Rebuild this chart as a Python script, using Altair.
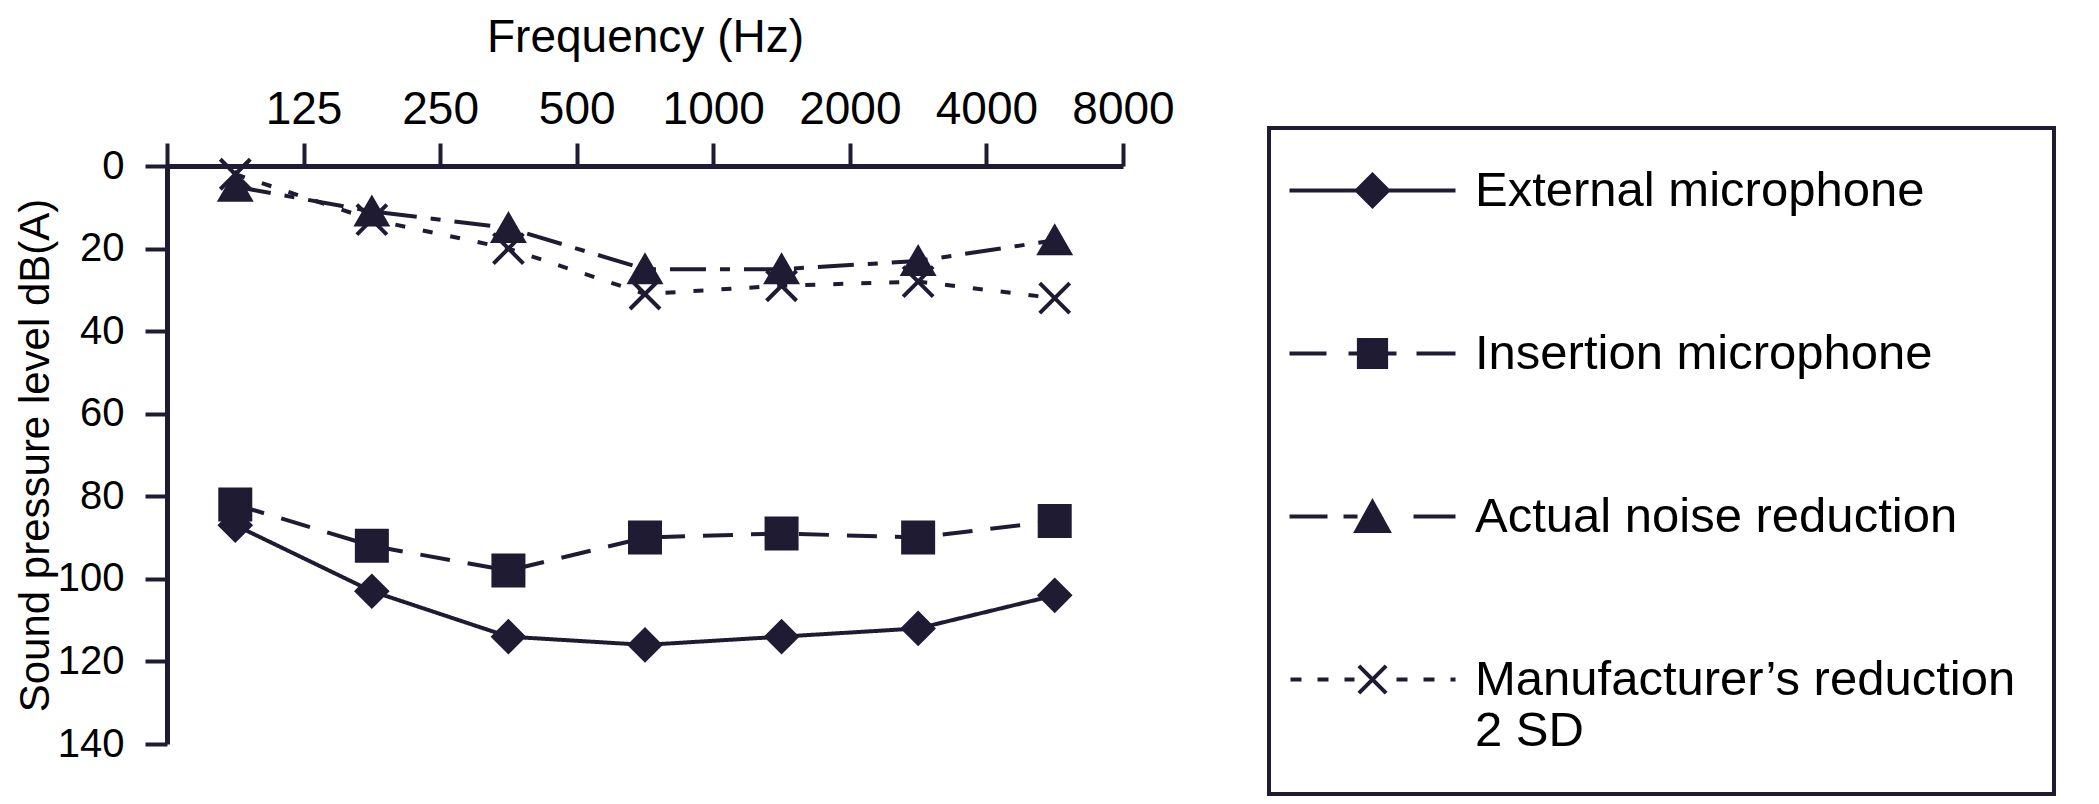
import altair as alt
import pandas as pd

# ---- data ----
freqs = ["125", "250", "500", "1000", "2000", "4000", "8000"]
series = [
    "External microphone",
    "Insertion microphone",
    "Actual noise reduction",
    "Manufacturer\u2019s reduction\n2 SD",
]
external = [87, 103, 114, 116, 114, 112, 104]
insertion = [82, 92, 98, 90, 89, 90, 86]
actual = [5, 11, 15, 25, 25, 23, 18]
manufacturer = [2, 13, 20, 31, 29, 28, 32]
y_ticks = [0, 20, 40, 60, 80, 100, 120, 140]

rows = []
for name, vals in zip(series, [external, insertion, actual, manufacturer]):
    for f, v in zip(freqs, vals):
        rows.append({"freq": f, "level": v, "series": name})
df = pd.DataFrame(rows)

# ---- styles ----
INK = "#1f1b33"
FONT = "Liberation Sans"
dashes = [[1, 0], [30, 18], [36, 14, 10, 14], [10, 18]]
plot_shapes = ["diamond", "square", "triangle-up", "M-1,-1L1,1M-1,1L1,-1"]
legend_shapes = [
    "M-4.15,0L4.15,0M-0.78,0L0,-0.78L0.78,0L0,0.78Z",
    "M-4.15,0L-2.3,0M-1.2,0L1.2,0M2.2,0L4.15,0M-0.68,-0.68L0.68,-0.68L0.68,0.68L-0.68,0.68Z",
    "M-4.15,0L-2.25,0M-1.45,0L-0.75,0M2.05,0L4.15,0M0,-0.72L0.8,0.72L-0.8,0.72Z",
    "M-4.1,0L-3.55,0M-2.75,0L-2.2,0M-1.4,0L-0.9,0M-0.68,-0.68L0.68,0.68M-0.68,0.68L0.68,-0.68M1.2,0L1.75,0M2.55,0L3.1,0M3.9,0L4.15,0",
]
BAND = 956 / len(freqs)

x_enc = alt.X(
    "freq:N",
    sort=freqs,
    scale=alt.Scale(type="band", domain=freqs, paddingInner=0, paddingOuter=0),
    axis=alt.Axis(
        orient="top",
        title="Frequency (Hz)",
        tickBand="extent",
        labelOffset=BAND / 2,
        labelAngle=0,
        labelFontSize=46,
        labelPadding=10,
        tickSize=23,
        titlePadding=25,
        titleFontSize=46,
    ),
)
y_enc = alt.Y(
    "level:Q",
    scale=alt.Scale(domain=[0, 140], reverse=True, nice=False, zero=False),
    axis=alt.Axis(
        values=y_ticks,
        title="Sound pressure level dB(A)",
        labelFontSize=40,
        labelPadding=21,
        tickSize=22,
        titlePadding=0,
        titleFontSize=42,
    ),
)

base = alt.Chart(df)

lines = base.mark_line(stroke=INK, strokeWidth=4).encode(
    x=x_enc,
    y=y_enc,
    strokeDash=alt.StrokeDash(
        "series:N", scale=alt.Scale(domain=series, range=dashes), legend=None
    ),
    detail="series:N",
)

points = base.mark_point(
    filled=True, fill=INK, stroke=INK, strokeWidth=4, size=900, opacity=1
).encode(
    x=x_enc,
    y=y_enc,
    shape=alt.Shape(
        "series:N", scale=alt.Scale(domain=series, range=plot_shapes), legend=None
    ),
)

legend_layer = base.mark_point(
    filled=False, fill=INK, stroke=INK, strokeWidth=4, opacity=0
).encode(
    x=x_enc,
    y=y_enc,
    shape=alt.Shape(
        "series:N",
        scale=alt.Scale(domain=series, range=legend_shapes),
        legend=alt.Legend(
            title=None,
            orient="none",
            legendX=1102,
            legendY=-38,
            labelExpr="split(datum.label, '\\n')",
        ),
    ),
)

chart = (
    alt.layer(lines, points, legend_layer)
    .resolve_scale(shape="independent")
    .properties(
        width=956,
        height=578,
        autosize=alt.AutoSizeParams(type="none"),
        padding={"left": 159, "top": 158, "right": 968, "bottom": 52},
        background="white",
    )
    .configure_view(strokeWidth=0)
    .configure_axis(
        labelFont=FONT,
        titleFont=FONT,
        labelColor="black",
        titleColor="black",
        titleFontWeight="normal",
        domainColor=INK,
        domainWidth=5,
        tickColor=INK,
        tickWidth=4,
        grid=False,
    )
    .configure_legend(
        padding=38,
        strokeColor=INK,
        strokeWidth=4,
        fillColor="white",
        symbolSize=1600,
        symbolStrokeWidth=4,
        symbolOpacity=1,
        symbolOffset=41,
        labelOffset=78,
        labelFont=FONT,
        labelFontSize=49,
        labelColor="black",
        labelLimit=1000,
        rowPadding=113,
    )
)

chart.save("out.html", embed_options={"renderer": "svg", "actions": False})
